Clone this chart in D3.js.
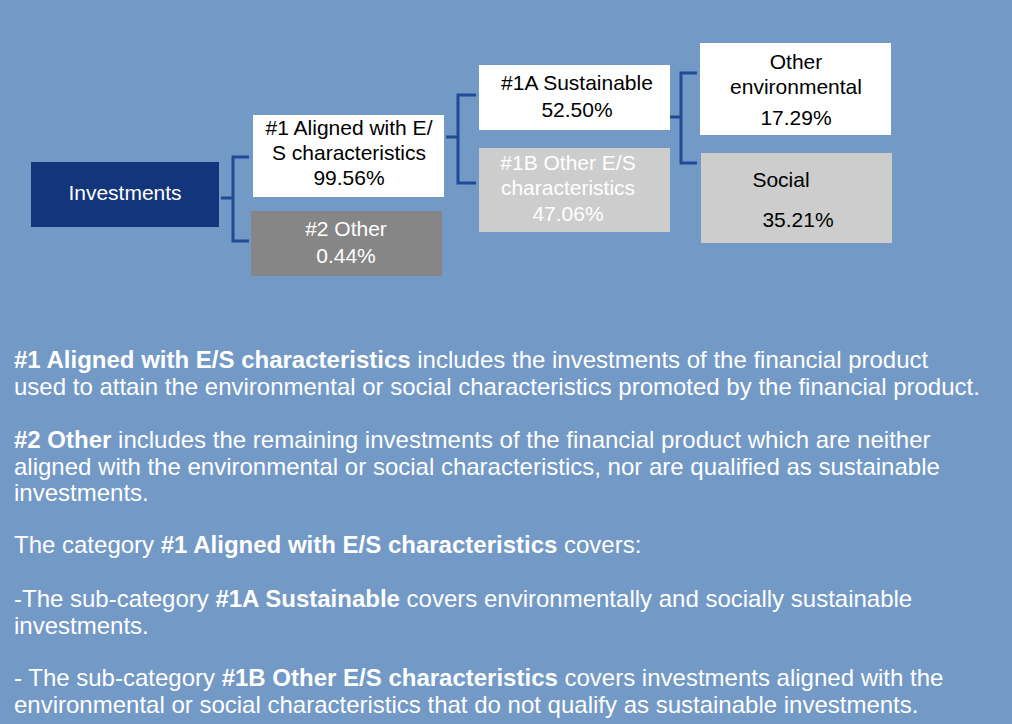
<!DOCTYPE html>
<html lang="en">
<head>
  <meta charset="UTF-8">
  <title>asset allocation</title>
  <script src="https://cdn.jsdelivr.net/npm/d3@7"></script>
  <style>
    body { margin: 0; background: #7399c6; }
  </style>
</head>
<body>
  <svg width="1012" height="724"></svg>
  <script>
    // data
    var nodeIds = ['inv', 'n1', 'n2', 'n1a', 'n1b', 'env', 'soc']
    var nodeLabels = [
      ['Investments'],
      ['#1 Aligned with E/', 'S characteristics'],
      ['#2 Other'],
      ['#1A Sustainable'],
      ['#1B Other E/S', 'characteristics'],
      ['Other', 'environmental'],
      ['Social']
    ]
    var nodeValues = [null, 99.56, 0.44, 52.50, 47.06, 17.29, 35.21]
    var parents = [null, 'inv', 'inv', 'n1', 'n1', 'n1a', 'n1a']

    // layout (box x, y, w, h) and styles
    var boxes = {
      inv: [31, 162, 188, 65], n1: [253, 115, 191, 82], n2: [251, 211, 191, 65],
      n1a: [479, 65, 191, 65], n1b: [479, 148, 191, 84],
      env: [700, 43, 191, 92], soc: [701, 153, 191, 90]
    }
    var fills = { inv: '#13357b', n1: '#ffffff', n2: '#868686', n1a: '#ffffff', n1b: '#cdcdcd', env: '#ffffff', soc: '#cdcdcd' }
    var inks = { inv: '#ffffff', n1: '#000000', n2: '#ffffff', n1a: '#000000', n1b: '#ffffff', env: '#000000', soc: '#000000' }
    // text line centres (y) and x centre
    var textPos = {
      inv: [125, [193]], n1: [349, [128, 153, 178]], n2: [346, [229, 256]],
      n1a: [577, [83, 110]], n1b: [568, [163, 188, 214]],
      env: [796, [62, 87, 118]], soc: [781, [180, 220]]
    }
    var brackets = {
      inv: { from: [221, 198], x: 233, y: [157, 241], to: 249 },
      n1: { from: [446, 137], x: 458, y: [95, 183], to: 476 },
      n1a: { from: [670, 117], x: 681, y: [73, 163], to: 697 }
    }

    var paragraphs = [
      { y: 360, lines: [
        [['#1 Aligned with E/S characteristics', true], [' includes the investments of the financial product', false]],
        [['used to attain the environmental or social characteristics promoted by the financial product.', false]]
      ] },
      { y: 440, lines: [
        [['#2 Other', true], [' includes the remaining investments of the financial product which are neither', false]],
        [['aligned with the environmental or social characteristics, nor are qualified as sustainable', false]],
        [['investments.', false]]
      ] },
      { y: 545, lines: [
        [['The category ', false], ['#1 Aligned with E/S characteristics', true], [' covers:', false]]
      ] },
      { y: 599, lines: [
        [['-The sub-category ', false], ['#1A Sustainable', true], [' covers environmentally and socially sustainable', false]],
        [['investments.', false]]
      ] },
      { y: 678, lines: [
        [['- The sub-category ', false], ['#1B Other E/S characteristics', true], [' covers investments aligned with the', false]],
        [['environmental or social characteristics that do not qualify as sustainable investments.', false]]
      ] }
    ]

    var font = 'Arial, "Liberation Sans", sans-serif'
    var svg = d3.select('svg').attr('font-family', font)
    svg.append('rect').attr('width', 1012).attr('height', 724).attr('fill', '#7399c6')

    var nodes = nodeIds.map(function (id, i) {
      var lines = nodeLabels[i].slice()
      if (nodeValues[i] != null) lines.push(d3.format('.2f')(nodeValues[i]) + '%')
      return { id: id, parent: parents[i], lines: lines }
    })

    // connectors
    var line = d3.line()
    Object.keys(brackets).forEach(function (k) {
      var b = brackets[k]
      var g = svg.append('g').attr('fill', 'none').attr('stroke', '#1f4a96').attr('stroke-width', 3)
      g.append('path').attr('d', line([b.from, [b.x, b.from[1]]]))
      g.append('path').attr('d', line([[b.to, b.y[0]], [b.x, b.y[0]], [b.x, b.y[1]], [b.to, b.y[1]]]))
    })

    // boxes
    var node = svg.selectAll('.node')
      .data(nodes)
      .enter()
      .append('g')
      .attr('class', 'node')

    node.append('rect')
      .attr('x', d => boxes[d.id][0])
      .attr('y', d => boxes[d.id][1])
      .attr('width', d => boxes[d.id][2])
      .attr('height', d => boxes[d.id][3])
      .attr('fill', d => fills[d.id])

    node.each(function (d) {
      var tp = textPos[d.id]
      d3.select(this).selectAll('text')
        .data(d.lines)
        .enter()
        .append('text')
        .attr('x', (t, i) => (d.id === 'soc' && i === 1) ? 798 : tp[0])
        .attr('y', (t, i) => tp[1][i])
        .attr('dy', '0.35em')
        .attr('text-anchor', 'middle')
        .attr('font-size', 21)
        .attr('fill', inks[d.id])
        .text(t => t)
    })

    // explanation text
    var lh = 26.2
    paragraphs.forEach(function (p) {
      p.lines.forEach(function (runs, i) {
        var t = svg.append('text')
          .attr('x', 14)
          .attr('y', p.y + i * lh)
          .attr('dy', '0.35em')
          .attr('font-size', 24)
          .attr('fill', '#ffffff')
        runs.forEach(function (r) {
          t.append('tspan').attr('font-weight', r[1] ? 'bold' : 'normal').text(r[0])
        })
      })
    })
  </script>
</body>
</html>
